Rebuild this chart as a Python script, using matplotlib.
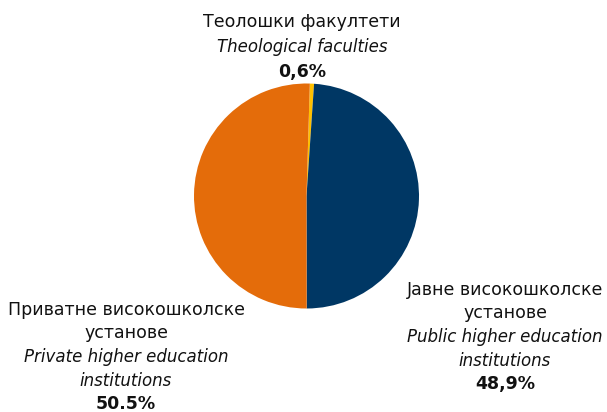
import matplotlib
matplotlib.use("Agg")
import matplotlib.pyplot as plt

# data
labels_sr = ["Теолошки факултети", "Јавне високошколске\nустанове", "Приватне високошколске\nустанове"]
labels_en = ["Theological faculties", "Public higher education\ninstitutions", "Private higher education\ninstitutions"]
value_labels = ["0,6%", "48,9%", "50.5%"]
shares = [0.6, 48.9, 50.5]
colors = ["#FFC000", "#003764", "#E46C0A"]

W, H = 607, 412
fig = plt.figure(figsize=(W / 100, H / 100), dpi=100)

# pie centred at ~(306, 196) px, radius ~112 px
cx, cy, r = 306.5, 196, 112.5
ax = fig.add_axes([(cx - r) / W, (H - cy - r) / H, 2 * r / W, 2 * r / H])
ax.pie(shares, colors=colors, startangle=88.3, counterclock=False, radius=1.0,
       wedgeprops=dict(linewidth=0))
ax.set_xlim(-1, 1)
ax.set_ylim(-1, 1)
ax.set_aspect("equal")
ax.axis("off")

# label blocks: x centre, y of first line, line step (pixels)
anchors = [(302, 22, 25), (505, 290, 23.5), (126, 310, 23.5)]
fs = 12.5

for i, (x, y, lh) in enumerate(anchors):
    lines = []
    for t in labels_sr[i].split("\n"):
        lines.append((t, "normal", "normal", fs))
    for t in labels_en[i].split("\n"):
        lines.append((t, "italic", "normal", fs - 0.5))
    lines.append((value_labels[i], "normal", "bold", fs))
    for k, (t, st, wt, size) in enumerate(lines):
        fig.text(x / W, 1 - (y + k * lh) / H, t, ha="center", va="center",
                 fontsize=size, style=st, fontweight=wt, color="#111111")

fig.savefig("out.png", dpi=100)
